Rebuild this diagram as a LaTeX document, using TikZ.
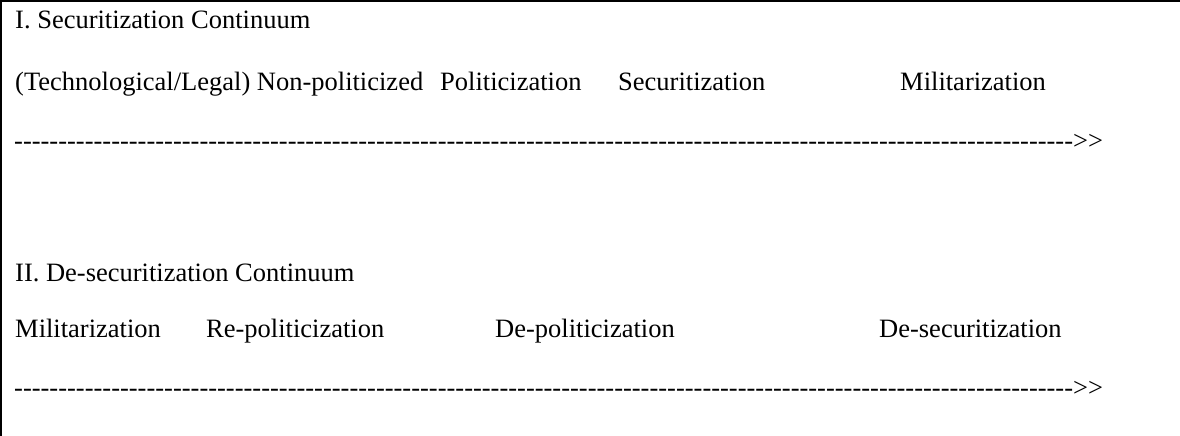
\documentclass[tikz,border=0pt]{standalone}
\usepackage{fontspec}
\setmainfont{Liberation Serif}
\newcommand\hk{-\kern0pt}
\newcommand\tenhk{\hk\hk\hk\hk\hk\hk\hk\hk\hk\hk}
\newcommand\dashrow{\tenhk\tenhk\tenhk\tenhk\tenhk\tenhk\tenhk\tenhk\tenhk\tenhk\tenhk\tenhk>\kern0pt>}
\tikzset{
  txt/.style={anchor=base west, inner sep=0pt, font=\fontsize{26.5}{30}\selectfont},
  frame/.style={line width=2.2pt}
}
\begin{document}
\begin{tikzpicture}[x=1pt,y=1pt]
\useasboundingbox (0,0) rectangle (1180,-436);
\coordinate (tl) at (0,-1.1);
\coordinate (tr) at (1180,-1.1);
\coordinate (lt) at (1.1,0);
\coordinate (lb) at (1.1,-436);
\draw[frame] (tl) -- (tr);
\draw[frame] (lt) -- (lb);
% section I
\node[txt] (h1) at (15,-29) {I. Securitization Continuum};
\node[txt] (a1) at (15,-90) {(Technological/Legal) Non-politicized};
\node[txt] (a2) at (440,-90) {Politicization};
\node[txt] (a3) at (618,-90) {Securitization};
\node[txt] (a4) at (900,-90) {Militarization};
\node[txt] (d1) at (14,-149) {\dashrow};
% section II
\node[txt] (h2) at (15,-281) {II. De-securitization Continuum};
\node[txt] (b1) at (15,-337) {Militarization};
\node[txt] (b2) at (206,-337) {Re-politicization};
\node[txt] (b3) at (495,-337) {De-politicization};
\node[txt] (b4) at (879,-337) {De-securitization};
\node[txt] (d2) at (14,-396) {\dashrow};
\end{tikzpicture}
\end{document}
